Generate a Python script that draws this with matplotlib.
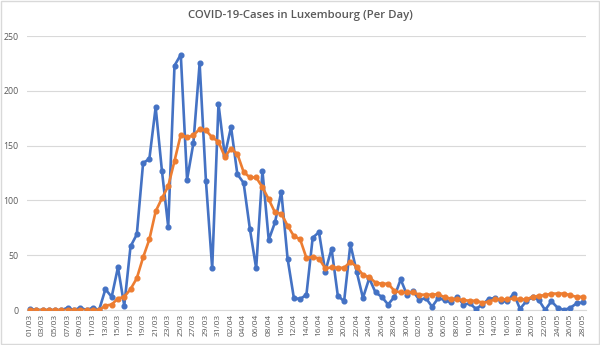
import matplotlib
matplotlib.use("Agg")
import matplotlib.pyplot as plt
import pandas as pd
from matplotlib.patches import Rectangle

# Categories: days from 01/03 to 28/05
dates = pd.date_range("2020-03-01", "2020-05-28", freq="D")
date_labels = [d.strftime("%d/%m") for d in dates]

# Daily new cases (blue)
daily_cases = [1, 0, 0, 0, 0, 0, 2, 0, 2, 0, 2, 0,
               19, 12, 39, 4, 58, 69, 134, 138, 185, 127, 76, 223, 233,
               119, 152, 225, 118, 38, 188, 141, 167, 124, 116, 74, 38,
               127, 64, 80, 108, 47, 11, 10, 14, 66, 71, 35, 56, 13, 8,
               60, 35, 11, 29, 16, 12, 5, 12, 28, 14, 17, 9, 11, 3, 11,
               9, 7, 12, 5, 6, 1, 5, 10, 11, 8, 8, 15, 1, 8, 12, 9, 0,
               8, 2, 0, 2, 6, 7]

# Rolling average (orange)
avg_cases = [0, 0, 0, 0, 0, 0, 0, 0, 0, 0, 0, 0,
             4, 5, 10.5, 12, 19, 29, 48, 64.5, 90, 102, 113, 136, 160,
             157.5, 159.5, 165, 164, 157.5, 153.5, 140, 147, 142.5, 126,
             121, 121, 112, 101, 89, 88, 77, 67.5, 64.5, 47.5, 48.5, 47,
             38, 39, 38.5, 38.5, 44, 39.5, 32, 30, 25, 24, 24, 17.5, 16,
             16, 16, 14, 14, 14, 14.5, 11.5, 10.5, 9.7, 9, 8.5, 8.5, 6.7,
             7.6, 9.7, 9.7, 9.7, 10.6, 9.7, 9.7, 12, 13, 13.5, 15, 15,
             15, 13.5, 12, 12]

y_ticks = [0, 50, 100, 150, 200, 250]

BLUE = "#4472C4"
ORANGE = "#ED7D31"
GRID = "#D9D9D9"
TXT = "#595959"

fig = plt.figure(figsize=(6.0, 3.45), dpi=100)
fig.patch.set_facecolor("white")
fig.patches.append(Rectangle((0.001, 0.002), 0.997, 0.995, transform=fig.transFigure,
                             fill=False, edgecolor=GRID, linewidth=1.0))

ax = fig.add_axes([0.0448, 0.1014, 0.9318, 0.7942])
x = list(range(len(date_labels)))

ax.plot(x, daily_cases, color=BLUE, linewidth=1.9, marker="o", markersize=3.4,
        zorder=3, solid_joinstyle="round")
ax.plot(x, avg_cases, color=ORANGE, linewidth=1.9, marker="o", markersize=3.4,
        zorder=4, solid_joinstyle="round")

ax.set_xlim(-0.5, len(x) - 0.5)
ax.set_ylim(0, 250)
ax.set_yticks(y_ticks)
ax.set_yticklabels([str(v) for v in y_ticks], fontsize=6.3, color=TXT,
                   family="Open Sans")
ax.set_xticks(x[::2])
ax.set_xticklabels(date_labels[::2], rotation=90, fontsize=6.0, color=TXT,
                   family="Open Sans")
ax.tick_params(axis="both", length=0, pad=3)
ax.tick_params(axis="y", pad=6)
ax.grid(axis="y", color=GRID, linewidth=0.8)
ax.set_axisbelow(True)
for s in ["top", "right", "left"]:
    ax.spines[s].set_visible(False)
ax.spines["bottom"].set_color(GRID)
ax.spines["bottom"].set_linewidth(0.8)

fig.text(0.5, 0.955, "COVID-19-Cases in Luxembourg (Per Day)", ha="center",
         va="center", fontsize=8.2, color=TXT, family="Open Sans",
         fontweight="semibold")

fig.savefig("out.png", dpi=100, facecolor="white")
